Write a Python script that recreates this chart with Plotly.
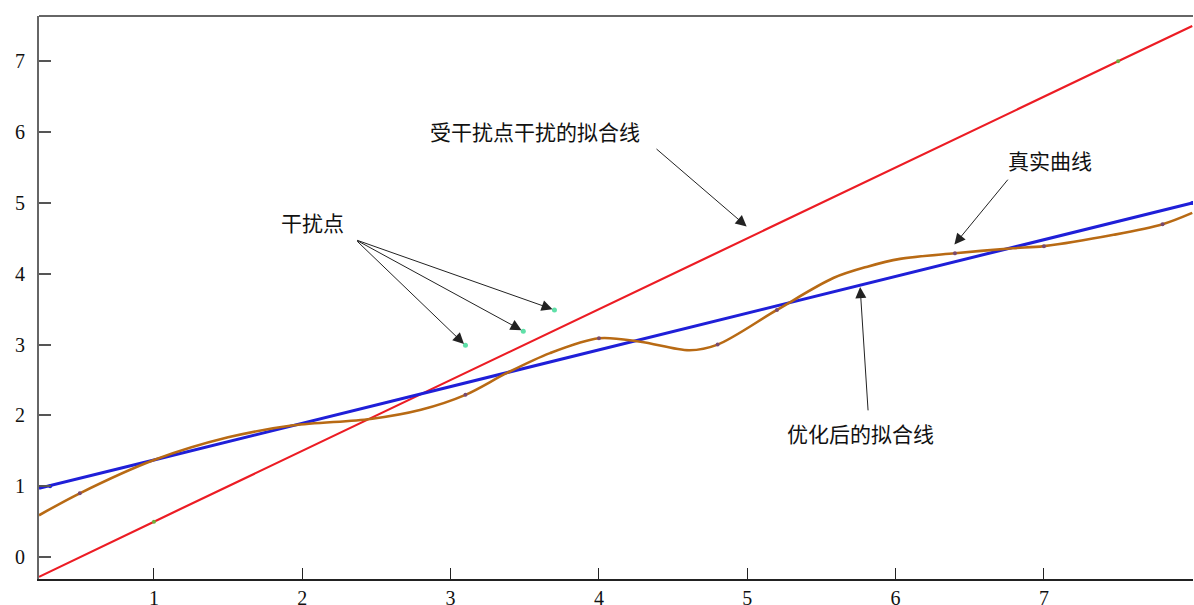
import plotly.graph_objects as go

# ---- data ----
red_x = [0.225, 1, 7.5, 8]
red_y = [-0.28, 0.5, 7.0, 7.5]
red_mark_x = [1, 7.5]
red_mark_y = [0.5, 7.0]

blue_x = [0.225, 1, 8]
blue_y = [0.97, 1.37, 5.0]
blue_mark_x = [0.3, 8]
blue_mark_y = [1.0, 5.0]

true_x = [0.225, 0.5, 1.0, 1.5, 1.94, 2.46, 2.8, 3.1, 3.38, 3.67, 4.0, 4.28, 4.61, 4.8,
          5.2, 5.58, 5.81, 6.03, 6.4, 6.79, 7.0, 7.47, 7.8, 8.0]
true_y = [0.59, 0.90, 1.37, 1.69, 1.86, 1.95, 2.08, 2.29, 2.60, 2.88, 3.09, 3.04, 2.92, 3.00,
          3.49, 3.94, 4.10, 4.21, 4.29, 4.36, 4.39, 4.55, 4.70, 4.86]
sample_x = [0.5, 3.1, 4.0, 4.8, 5.2, 6.4, 7.0, 7.8]
sample_y = [0.90, 2.29, 3.09, 3.00, 3.49, 4.29, 4.39, 4.70]

noise_x = [3.1, 3.49, 3.70]
noise_y = [2.99, 3.19, 3.49]

x_ticks = [1, 2, 3, 4, 5, 6, 7, 8]
y_ticks = [0, 1, 2, 3, 4, 5, 6, 7]

fig = go.Figure()
fig.add_trace(go.Scatter(x=red_x, y=red_y, mode="lines",
                         line=dict(color="#ec1c24", width=2.2), showlegend=False))
fig.add_trace(go.Scatter(x=red_mark_x, y=red_mark_y, mode="markers",
                         marker=dict(color="#6fae3a", size=4), showlegend=False))
fig.add_trace(go.Scatter(x=blue_x, y=blue_y, mode="lines",
                         line=dict(color="#1f1fd8", width=3), showlegend=False))
fig.add_trace(go.Scatter(x=blue_mark_x, y=blue_mark_y, mode="markers",
                         marker=dict(color="#1f1fd8", size=4), showlegend=False))
fig.add_trace(go.Scatter(x=true_x, y=true_y, mode="lines", line_shape="spline",
                         line=dict(color="#b86a14", width=2.6, smoothing=0.9), showlegend=False))
fig.add_trace(go.Scatter(x=sample_x, y=sample_y, mode="markers",
                         marker=dict(color="#7a4a6e", size=4), showlegend=False))
fig.add_trace(go.Scatter(x=noise_x, y=noise_y, mode="markers",
                         marker=dict(color="#5fe0a8", size=5), showlegend=False))

cjk = dict(family="Noto Sans CJK SC", size=21, color="#111111")

texts = [
    ("受干扰点干扰的拟合线", 3.569, 6.02),
    ("干扰点", 2.072, 4.73),
    ("真实曲线", 7.042, 5.61),
    ("优化后的拟合线", 5.76, 1.75),
]
for t, x, y in texts:
    fig.add_annotation(x=x, y=y, text=t, showarrow=False, font=cjk,
                       xanchor="center", yanchor="middle")

arrows = [
    (2.36, 4.48, 3.1, 2.99),
    (2.36, 4.48, 3.49, 3.19),
    (2.36, 4.48, 3.70, 3.49),
    (4.378, 5.78, 5.006, 4.65),
    (6.765, 5.35, 6.388, 4.39),
    (5.815, 2.05, 5.76, 3.84),
]
for ax, ay, x, y in arrows:
    fig.add_annotation(x=x, y=y, ax=ax, ay=ay, axref="x", ayref="y", xref="x", yref="y",
                       text="", showarrow=True, arrowhead=2, arrowsize=2.2,
                       arrowwidth=1, arrowcolor="#222222", standoff=2)

# top frame line
fig.add_shape(type="line", xref="paper", yref="paper", x0=0, x1=1, y0=1, y1=1,
              line=dict(color="#666666", width=2))

tick_font = dict(family="Liberation Serif", size=20, color="#111111")
fig.update_xaxes(range=[0.225, 8.005], tickvals=x_ticks, ticks="inside", ticklen=11,
                 tickcolor="#222222", tickwidth=1, showline=True, linecolor="#222222",
                 linewidth=1.5, showgrid=False, zeroline=False, tickfont=tick_font,
                 automargin=False)
fig.update_yaxes(range=[-0.31, 7.64], tickvals=y_ticks, ticks="inside", ticklen=12,
                 tickcolor="#555555", tickwidth=1.5, showline=True, linecolor="#666666",
                 linewidth=2, showgrid=False, zeroline=False, tickfont=tick_font,
                 automargin=False, ticklabelstandoff=8)

fig.update_layout(width=1194, height=605, margin=dict(l=39, r=1, t=16, b=26, autoexpand=False),
                  plot_bgcolor="white", paper_bgcolor="white")

fig.write_html("out.html", config={"displayModeBar": False},
               post_script="document.body.style.margin='0';document.body.style.overflow='hidden';")
